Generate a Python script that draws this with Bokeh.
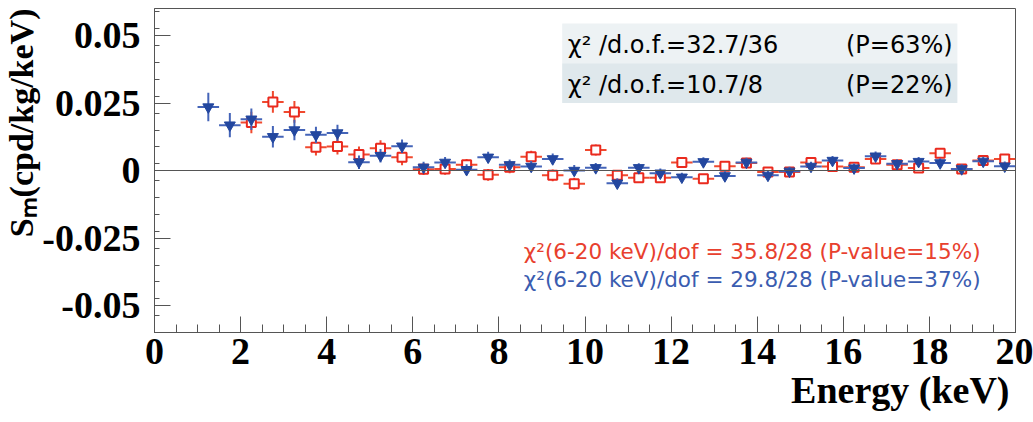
from bokeh.plotting import figure
from bokeh.models import FixedTicker, Span, Label, BoxAnnotation, ColumnDataSource, Title
from bokeh.embed import file_html
from bokeh.resources import INLINE

# ---- data ----
energy_blue = [1.25, 1.75, 2.25, 2.75, 3.25, 3.75, 4.25, 4.75, 5.25, 5.75,
               6.25, 6.75, 7.25, 7.75, 8.25, 8.75, 9.25, 9.75, 10.25, 10.75,
               11.25, 11.75, 12.25, 12.75, 13.25, 13.75, 14.25, 14.75, 15.25, 15.75,
               16.25, 16.75, 17.25, 17.75, 18.25, 18.75, 19.25, 19.75]
sm_blue = [0.0235, 0.0168, 0.0190, 0.0125, 0.0150, 0.0132, 0.0139, 0.0031, 0.0055, 0.0090,
           0.0012, 0.0030, 0.0003, 0.0049, 0.0021, 0.0015, 0.0043, 0.0000, 0.0010, -0.0047,
           0.0010, -0.0010, -0.0025, 0.0032, -0.0020, 0.0030, -0.0018, -0.0003, 0.0015, 0.0037,
           0.0009, 0.0053, 0.0025, 0.0033, 0.0028, 0.0006, 0.0034, 0.0016]
err_blue = [0.0053, 0.0045, 0.0040, 0.0040, 0.0038, 0.0030, 0.0030, 0.0025, 0.0025, 0.0025,
            0.0020, 0.0020, 0.0020, 0.0020, 0.0020, 0.0020, 0.0020, 0.0020, 0.0018, 0.0018,
            0.0017, 0.0017, 0.0017, 0.0017, 0.0017, 0.0017, 0.0017, 0.0017, 0.0017, 0.0017,
            0.0017, 0.0017, 0.0017, 0.0017, 0.0017, 0.0017, 0.0017, 0.0017]

energy_red = [2.25, 2.75, 3.25, 3.75, 4.25, 4.75, 5.25, 5.75,
              6.25, 6.75, 7.25, 7.75, 8.25, 8.75, 9.25, 9.75, 10.25, 10.75,
              11.25, 11.75, 12.25, 12.75, 13.25, 13.75, 14.25, 14.75, 15.25, 15.75,
              16.25, 16.75, 17.25, 17.75, 18.25, 18.75, 19.25, 19.75]
sm_red = [0.0178, 0.0254, 0.0217, 0.0086, 0.0089, 0.0059, 0.0082, 0.0049,
          0.0005, 0.0006, 0.0021, -0.0016, 0.0012, 0.0051, -0.0018, -0.0049, 0.0076, -0.0018,
          -0.0027, -0.0027, 0.0030, -0.0031, 0.0016, 0.0028, -0.0006, -0.0006, 0.0030, 0.0015,
          0.0012, 0.0043, 0.0021, 0.0009, 0.0064, 0.0006, 0.0037, 0.0043]
err_red = [0.0040, 0.0040, 0.0040, 0.0030, 0.0030, 0.0030, 0.0030, 0.0030,
           0.0022, 0.0022, 0.0022, 0.0022, 0.0022, 0.0022, 0.0022, 0.0022, 0.0020, 0.0020,
           0.0018, 0.0018, 0.0018, 0.0018, 0.0018, 0.0018, 0.0018, 0.0018, 0.0018, 0.0018,
           0.0018, 0.0018, 0.0018, 0.0018, 0.0018, 0.0018, 0.0018, 0.0018]
bin_half = 0.25

x_ticks = [0, 2, 4, 6, 8, 10, 12, 14, 16, 18, 20]
y_ticks = [-0.05, -0.025, 0, 0.025, 0.05]
y_tick_labels = ["-0.05", "-0.025", "0", "0.025", "0.05"]

box_lines = ["\u03c7\u00b2 /d.o.f.=32.7/36", "\u03c7\u00b2 /d.o.f.=10.7/8"]
box_p = ["(P=63%)", "(P=22%)"]
red_text = "\u03c7\u00b2(6-20 keV)/dof = 35.8/28 (P-value=15%)"
blue_text = "\u03c7\u00b2(6-20 keV)/dof = 29.8/28 (P-value=37%)"
x_title = "Energy (keV)"
y_title = "S\u2098(cpd/kg/keV)"

RED = "#ea2a1e"
RED_ERR = "#f0492e"
BLUE = "#23479f"
BLUE_ERR = "#4464b8"
AX = "#555555"

p = figure(width=1033, height=422, x_range=(0, 20), y_range=(-0.06, 0.06),
           output_backend="svg", toolbar_location=None,
           min_border_left=153, min_border_right=18, min_border_top=8, min_border_bottom=90)
p.xgrid.visible = False
p.ygrid.visible = False
p.outline_line_color = AX
p.outline_line_width = 1
p.background_fill_color = "white"
p.border_fill_color = "white"

p.xaxis.ticker = FixedTicker(ticks=x_ticks, minor_ticks=[i * 0.5 for i in range(41)])
p.yaxis.ticker = FixedTicker(ticks=y_ticks, minor_ticks=[-0.06 + i * 0.00625 for i in range(20)])
p.yaxis.major_label_overrides = {t: l for t, l in zip(y_ticks, y_tick_labels)}

for ax in (p.xaxis, p.yaxis):
    ax.axis_line_color = AX
    ax.major_tick_line_color = AX
    ax.minor_tick_line_color = AX
    ax.major_tick_out = 0
    ax.minor_tick_out = 0
    ax.major_label_text_font = "Liberation Serif"
    ax.major_label_text_font_style = "bold"
    ax.major_label_text_font_size = "38px"
    ax.major_label_text_color = "black"
p.xaxis.major_tick_in = 16
p.xaxis.minor_tick_in = 8
p.yaxis.major_tick_in = 16
p.yaxis.minor_tick_in = 5
p.xaxis.major_label_standoff = 6
p.yaxis.major_label_standoff = 14

p.add_layout(Span(location=0, dimension="width", line_color=AX, line_width=1))

# axis titles as side-panel titles
p.add_layout(Title(text=x_title, align="right", offset=6, standoff=0,
                   text_font="Liberation Serif", text_font_style="bold",
                   text_font_size="38px", text_color="black"), "below")
p.add_layout(Title(text=y_title, align="right", offset=0, standoff=0,
                   text_font="Liberation Serif", text_font_style="bold",
                   text_font_size="34px", text_color="black"), "left")

# info box
p.add_layout(BoxAnnotation(left=9.47, right=18.65, top=0.0544, bottom=0.0397,
                           fill_color="#edf2f4", fill_alpha=1, line_alpha=0))
p.add_layout(BoxAnnotation(left=9.47, right=18.65, top=0.0397, bottom=0.0250,
                           fill_color="#dfe8ec", fill_alpha=1, line_alpha=0))

# red series
rsrc = ColumnDataSource(dict(x=energy_red, y=sm_red,
                             x0=[e - bin_half for e in energy_red], x1=[e + bin_half for e in energy_red],
                             y0=[v - e for v, e in zip(sm_red, err_red)], y1=[v + e for v, e in zip(sm_red, err_red)]))
p.segment(x0="x0", x1="x1", y0="y", y1="y", source=rsrc, line_color=RED_ERR, line_width=2)
p.segment(x0="x", x1="x", y0="y0", y1="y1", source=rsrc, line_color=RED_ERR, line_width=2)
p.scatter("x", "y", source=rsrc, marker="square", size=9, line_color=RED, line_width=2, fill_color="white")

# blue series
bsrc = ColumnDataSource(dict(x=energy_blue, y=sm_blue,
                             x0=[e - bin_half for e in energy_blue], x1=[e + bin_half for e in energy_blue],
                             y0=[v - e for v, e in zip(sm_blue, err_blue)], y1=[v + e for v, e in zip(sm_blue, err_blue)]))
p.segment(x0="x0", x1="x1", y0="y", y1="y", source=bsrc, line_color=BLUE_ERR, line_width=2)
p.segment(x0="x", x1="x", y0="y0", y1="y1", source=bsrc, line_color=BLUE_ERR, line_width=2)
p.scatter("x", "y", source=bsrc, marker="inverted_triangle", size=11, line_color=BLUE, fill_color=BLUE)

# box texts
for txt, pt, yy in zip(box_lines, box_p, [0.0466, 0.0318]):
    p.add_layout(Label(x=9.6, y=yy, text=txt, text_font="DejaVu Sans", text_font_size="24px",
                       text_baseline="middle", text_align="left", text_color="black"))
    p.add_layout(Label(x=18.54, y=yy, text=pt, text_font="DejaVu Sans", text_font_size="24px",
                       text_baseline="middle", text_align="right", text_color="black"))

p.add_layout(Label(x=8.58, y=-0.0301, text=red_text, text_font="DejaVu Sans", text_font_size="21.5px",
                   text_baseline="middle", text_align="left", text_color="#e8402e"))
p.add_layout(Label(x=8.58, y=-0.0404, text=blue_text, text_font="DejaVu Sans", text_font_size="21.5px",
                   text_baseline="middle", text_align="left", text_color="#3a5cb0"))

open("out.html", "w").write(file_html(p, INLINE))
